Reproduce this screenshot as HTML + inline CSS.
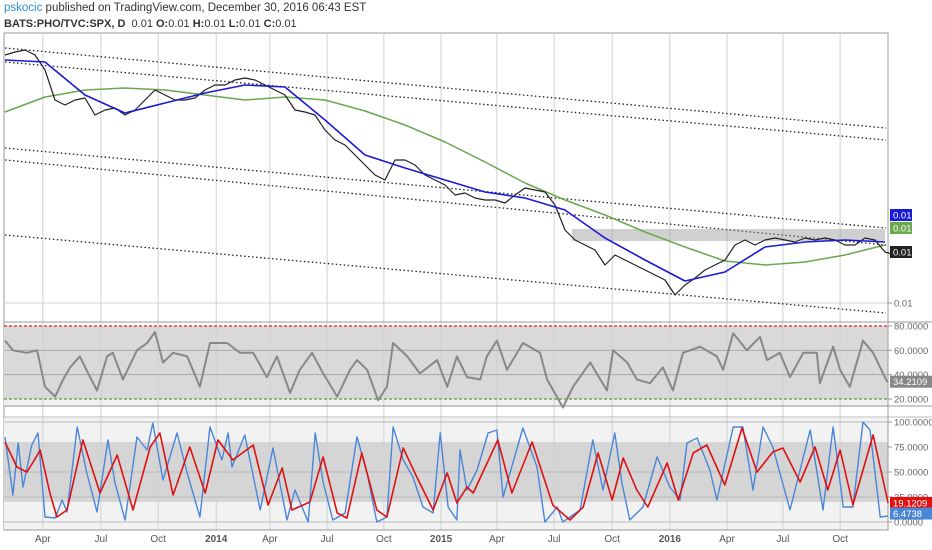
<!DOCTYPE html>
<html><head><meta charset="utf-8">
<style>
body{margin:0;background:#fff;width:932px;height:550px;overflow:hidden;font-family:"Liberation Sans",sans-serif;}
.hdr{position:absolute;left:4px;font-size:11.5px;color:#333;white-space:nowrap}
svg{position:absolute;left:0;top:0}
</style></head>
<body>
<div class="hdr" style="top:2px"><span style="color:#2f8fd0">pskocic</span> published on TradingView.com, December 30, 2016 06:43 EST</div>
<div class="hdr" style="top:18px;font-size:11px"><b>BATS:PHO/TVC:SPX, D</b>&nbsp; 0.01 <b>O:</b>0.01 <b>H:</b>0.01 <b>L:</b>0.01 <b>C:</b>0.01</div>
<svg id="chart" width="932" height="550"></svg>
<script>
// time unit: weeks since start (Mar 2013)
const tickLabels=["Apr","Jul","Oct","2014","Apr","Jul","Oct","2015","Apr","Jul","Oct","2016","Apr","Jul","Oct"];
const tickTimes=[8.6,21.8,34.8,48,60.2,73.2,86.1,99.1,111.8,124.8,138,151.1,164.1,176.8,189.8];
const priceStart=0, priceStep=2.2727;
const price=[267,270,272,267,252,222,217,222,224,207,212,214,207,212,222,232,227,222,222,224,232,237,237,242,244,242,237,232,227,212,210,207,192,182,177,167,157,147,142,162,162,157,147,142,137,127,129,124,122,122,119,127,134,132,130,117,92,82,77,72,57,67,62,57,52,47,42,27,37,44,52,57,62,77,82,77,82,84,82,80,84,82,84,82,77,77,84,82,70,67];
const maStep=9.0909;
const maFast=[262,260,227,209,219,229,237,235,202,167,154,142,130,124,112,84,62,41,50,75,80,82,80];
const maSlow=[210,225,232,234,232,227,222,225,222,211,197,180,160,139,122,107,90,75,61,57,60,67,77];
const rsiT=[0,1.8,5,7.3,9.1,11.4,13.2,14.8,17,18.9,20.9,23.2,24.5,26.8,30,32.3,34.1,35.9,38.2,41.4,44.3,46.6,50.5,53.4,56.4,59.5,61.8,64.8,67,69.8,72.3,75.5,78.4,80,82.3,84.8,86.8,88.2,91.4,94.3,98.2,100.5,102.7,105,108,109.5,111.8,114.1,117.7,121.6,123.2,126.8,129.1,133,136.8,138.2,141.4,143.6,146.6,149.5,151.8,154.1,158,161.8,163.2,165.5,168.6,171.6,173.2,176.1,178.4,181.4,184.5,185.2,188.2,189.8,192,195,197.3,200.5];
const rsiV=[68,60,58,60,30,22,36,46,55,41,27,55,58,36,60,66,75,50,58,55,30,66,66,58,58,38,55,25,44,58,41,22,44,52,44,19,30,66,55,41,52,30,55,38,36,55,68,44,66,58,36,13,30,50,27,60,50,36,33,46,27,58,63,55,44,74,60,71,52,58,38,58,58,33,63,44,30,68,58,34];
const dT=[0,2.7,5,6.4,8,10.2,11.8,14.1,17.7,21.6,25.5,29.1,33,35.2,38.2,42,45.5,48.4,51.8,56.4,59.8,63,65.2,69.3,72.3,75.5,77.7,81.1,84.5,86.8,90.5,93.6,97.3,100.5,102.7,105,106.4,112,115.2,119.8,124.5,128.4,131.4,134.8,138,140.5,143.6,146.1,150.5,153,156.4,159.5,163.6,167.5,170.9,174.5,176.8,180.7,184.1,187,189.8,192.7,197.3,200.7];
const dV=[80,55,50,60,72,29,5,12,82,29,67,12,75,89,27,75,29,82,62,77,17,54,12,20,65,9,4,69,12,5,74,45,12,49,19,35,29,82,29,80,17,2,15,69,22,64,32,15,59,22,69,77,37,94,50,70,74,40,75,32,72,17,87,19];
const kT=[0,1.8,3,4.1,6.1,7.5,9.1,11.4,13,14.1,16.4,18.6,20.9,23.4,25,27.3,30,32.3,33.6,35.9,39.1,41.4,44.3,46.6,49.3,50.7,51.6,54.5,58,60.9,64.1,65.9,68.9,70.5,72.3,74.5,77.3,80,82.3,84.5,86.8,88.2,90.5,92.7,95,97.3,98.9,100.7,102.7,103.4,105,107.3,109.8,111.8,113.2,117.7,120.9,122.7,125.5,126.8,130.7,133.6,135.9,138.6,140.2,142,145,148.2,151.1,153.4,155,157.3,160.2,161.8,165.5,167.7,170,172.3,174.5,178.4,183,185.9,188.2,190.5,192.7,195,196.6,198.9,200.7];
const kV=[85,27,79,35,77,89,5,4,22,10,95,49,10,82,39,2,85,72,99,42,89,49,5,95,62,89,55,87,12,74,2,32,0,89,40,2,9,85,49,0,5,95,62,45,15,9,89,15,2,72,32,52,89,92,25,94,55,0,15,0,12,82,32,89,39,2,15,65,35,22,79,84,52,22,95,95,32,95,75,12,92,12,95,15,15,100,92,5,6];

const svg=document.getElementById('chart');
const NS='http://www.w3.org/2000/svg';
const L=4,R=888;
const x=t=>5+t*4.4;
const yMain=v=>322-v;
const yRsi=v=>399-(v-20)*1.2167;
const yStoch=v=>522-v;
function mk(tag,attrs,parent){const e=document.createElementNS(NS,tag);for(const k in attrs)e.setAttribute(k,attrs[k]);(parent||svg).appendChild(e);return e;}
function line(pts,color,w,name,dash){
  const p=mk('polyline',{points:pts.map(q=>q[0].toFixed(1)+','+q[1].toFixed(1)).join(' '),fill:'none',stroke:color,'stroke-width':w,'stroke-linejoin':'round'});
  if(dash)p.setAttribute('stroke-dasharray',dash);
  
  
  return p;
}
function txt(s,xx,yy,opts){const e=mk('text',Object.assign({x:xx,y:yy,'font-size':10,fill:'#555','font-family':'Liberation Sans, sans-serif'},opts||{}));e.textContent=s;return e;}

// frame background
mk('rect',{x:L,y:33,width:R-L,height:497,fill:'#fff',stroke:'#999'});
// RSI band
const rb=mk('rect',{x:L,y:yRsi(80),width:R-L,height:yRsi(20)-yRsi(80),fill:'#d9d9d9'});


mk('rect',{x:L,y:yRsi(20),width:R-L,height:8,fill:'#f0f0f0'});
// Stoch band
mk('rect',{x:L,y:418,width:R-L,height:112,fill:'#f2f2f2'});
const sb=mk('rect',{x:L,y:yStoch(80),width:R-L,height:60,fill:'#d5d5d5'});


// vertical grid
tickTimes.forEach((t,i)=>{
  const g=mk('line',{x1:x(t),x2:x(t),y1:33,y2:530,stroke:'#d0d0d0','stroke-width':1});
  
  
  const bold=/^20/.test(tickLabels[i]);
  const tl=txt(tickLabels[i],x(t),542,{'text-anchor':'middle','font-weight':bold?'bold':'normal',fill:'#555'});
  
  
});
// horizontal grids
[303].forEach(v=>mk('line',{x1:L,x2:R,y1:v,y2:v,stroke:'#d0d0d0'}));
[60,40].forEach(v=>mk('line',{x1:L,x2:R,y1:yRsi(v),y2:yRsi(v),stroke:'#aaa'}));
[100,50,25,0].forEach(v=>mk('line',{x1:L,x2:R,y1:yStoch(v),y2:yStoch(v),stroke:'#bbb'}));
// pane separators
mk('line',{x1:L,x2:932,y1:322,y2:322,stroke:'#999'});
mk('line',{x1:L,x2:932,y1:406,y2:406,stroke:'#999'});
mk('line',{x1:L,x2:932,y1:417,y2:417,stroke:'#bbb'});
mk('line',{x1:L,x2:R,y1:530,y2:530,stroke:'#999'});
mk('line',{x1:R,x2:R,y1:33,y2:530,stroke:'#999'});
// RSI levels
line([[L,yRsi(80)],[R,yRsi(80)]],'#e02020',1.3,'rsi-overbought-line','3,2');
line([[L,yRsi(20)],[R,yRsi(20)]],'#5a9a3a',1.3,'rsi-oversold-line','3,2');
// channel lines (dotted)
[[48,128],[62,140],[148,228],[160,245],[235,313]].forEach(c=>{
  line([[L+1,c[0]],[R-2,c[1]]],'#222',1.3,'trend-channel-line','1.5,2.5');
});
// resistance zone
const rz=mk('rect',{x:572,y:229,width:313,height:12,fill:'rgba(150,150,150,0.45)'});


// series
line(maSlow.map((v,i)=>[x(i*maStep),yMain(v)]),'#6aa84f',1.5,'ma-slow-line');
line(price.map((v,i)=>[x(priceStart+i*priceStep),yMain(v)]),'#222',1.2,'price-line');
line(maFast.map((v,i)=>[x(i*maStep),yMain(v)]),'#1a1ad8',1.6,'ma-fast-line');
line(rsiT.map((t,i)=>[x(t),yRsi(rsiV[i])]),'#888',2,'rsi-line');
line(kT.map((t,i)=>[x(t),yStoch(kV[i])]),'#4a86d8',1.4,'stoch-k-line');
line(dT.map((t,i)=>[x(t),yStoch(dV[i])]),'#dd1111',1.6,'stoch-d-line');
// right axis labels
function axLab(s,yy,name){mk('line',{x1:R,x2:R+4,y1:yy,y2:yy,stroke:'#999'});const e=txt(s,R+6,yy+3.5,{'font-size':9.5,fill:'#666'});}
function badge(s,yy,bg,name){const r=mk('rect',{x:R+2,y:yy-6,width:s.length>5?44:22,height:12,fill:bg});txt(s,R+5,yy+3.5,{'font-size':9.5,fill:'#fff'});}
axLab('0.01',303,'y-axis-label');
axLab('80.0000',yRsi(80),'rsi-axis-label');axLab('60.0000',yRsi(60),'rsi-axis-label');axLab('40.0000',yRsi(40),'rsi-axis-label');axLab('20.0000',yRsi(20),'rsi-axis-label');
axLab('100.0000',yStoch(100),'stoch-axis-label');axLab('75.0000',yStoch(75),'stoch-axis-label');axLab('50.0000',yStoch(50),'stoch-axis-label');axLab('25.0000',yStoch(25),'stoch-axis-label');axLab('0.0000',yStoch(0),'stoch-axis-label');
badge('0.01',215,'#1a1ad8','ma-fast-badge');
badge('0.01',228,'#6aa84f','ma-slow-badge');
badge('0.01',252,'#222','price-badge');
badge('34.2109',yRsi(34.21),'#888','rsi-value-badge');
badge('19.1209',yStoch(19.12),'#e01010','stoch-d-badge');
badge('6.4738',yStoch(6.47)-2,'#4a86d8','stoch-k-badge');
</script>
</body></html>
